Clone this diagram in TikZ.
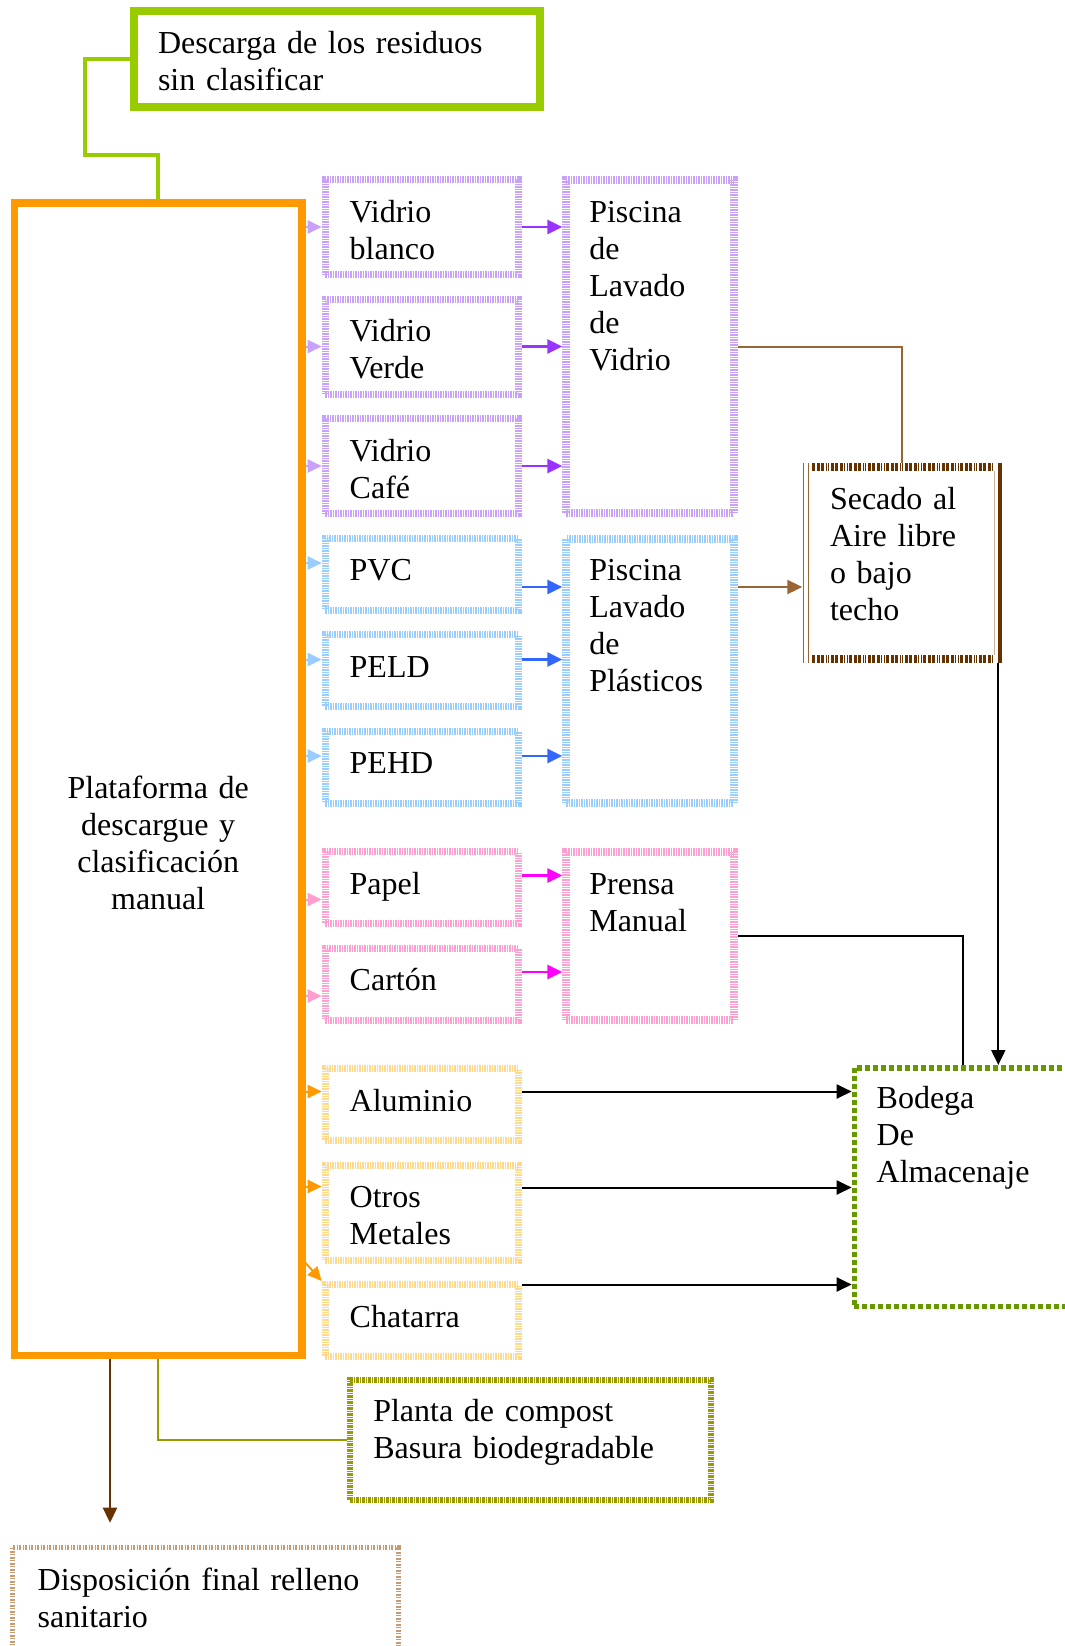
\documentclass[tikz,border=0pt]{standalone}
\usepackage{fontspec}
\setmainfont{Liberation Serif}
\usetikzlibrary{positioning, calc, arrows.meta}

\definecolor{glassl}{HTML}{C9A0FA}
\definecolor{glassd}{HTML}{9933FF}
\definecolor{plastl}{HTML}{99CCFF}
\definecolor{plastd}{HTML}{3366FF}
\definecolor{paperl}{HTML}{FF9FCF}
\definecolor{paperd}{HTML}{FF00FF}
\definecolor{metall}{HTML}{FFD88A}
\definecolor{orangeb}{HTML}{FF9900}
\definecolor{limec}{HTML}{99CC00}
\definecolor{brownl}{HTML}{996633}
\definecolor{brownd}{HTML}{663300}
\definecolor{storeg}{HTML}{669900}
\definecolor{compostc}{HTML}{999900}
\definecolor{landc}{HTML}{C89A70}

\tikzset{
>={Triangle[length=15pt,width=14pt]}, % solid triangle heads
block/.style={anchor=north west, align=left, inner ysep=0pt}, % text hangs from the top edge
item/.style={block, draw, line width=7pt, outer sep=3.5pt, inner xsep=24.5pt,
  text width=144pt, text height=42.5pt, dash pattern=on 1.5pt off 1pt},
two/.style={text depth=52.5pt}, % two lines of text
one/.style={text depth=29.5pt}, % one line of text
stage/.style={block, draw, line width=8pt, outer sep=4pt, inner xsep=23pt,
  text width=122pt, text height=42pt, dash pattern=on 2pt off 1pt on 1pt off 1pt},
feed/.style={->, line width=2pt, >={Triangle[length=14pt,width=13pt]}},
flow/.style={->, line width=2.5pt},
link/.style={line width=2pt},
}

\begin{document}
\begin{tikzpicture}[x=1pt, y=-1pt, node distance=17.5pt,
  font=\fontsize{32}{37}\selectfont]
  \useasboundingbox (0,0) rectangle (1065,1646);
  \fill[white] (0,0) rectangle (1065,1646);

  \node[block, draw=limec, line width=8pt, outer sep=4pt, inner xsep=24pt,
    text width=358pt, text height=42pt, text depth=53.7pt] (descarga) at (130,7.3)
    {Descarga de los residuos\\sin clasificar};
  \node[block, draw=orangeb, line width=7.5pt, outer sep=3.75pt, align=center,
    inner xsep=20pt, text width=247.5pt, text height=595pt, text depth=557.5pt] (plat) at (10.7,199.3)
    {Plataforma de\\descargue y\\clasificación\\manual};

  % separated materials
  \node[item, draw=glassl, two] (vblanco) at (321.7,176) {Vidrio\\blanco};
  \node[item, draw=glassl, two, below=of vblanco] (vverde) {Vidrio\\Verde};
  \node[item, draw=glassl, two, below=of vverde] (vcafe) {Vidrio\\Café};
  \node[item, draw=plastl, one, below=of vcafe] (pvc) {PVC};
  \node[item, draw=plastl, one, below=of pvc] (peld) {PELD};
  \node[item, draw=plastl, one, below=of peld] (pehd) {PEHD};
  \node[item, draw=paperl, one, below=41.5pt of pehd] (papel) {Papel};
  \node[item, draw=paperl, one, below=of papel] (carton) {Cartón};
  \node[item, draw=metall, one, below=41.5pt of carton] (alum) {Aluminio};
  \node[item, draw=metall, two, below=of alum] (otros) {Otros\\Metales};
  \node[item, draw=metall, one, below=of otros] (chat) {Chatarra};

  % treatment
  \node[stage, draw=glassl, text depth=291pt, right=40.6pt of vblanco.north east, anchor=north west] (pv)
    {Piscina\\de\\Lavado\\de\\Vidrio};
  \node[stage, draw=plastl, text depth=222pt, right=40.6pt of pvc.north east, anchor=north west] (pp)
    {Piscina\\Lavado\\de\\Plásticos};
  \node[stage, draw=paperl, text depth=125.5pt, right=40.6pt of papel.north east, anchor=north west] (pm)
    {Prensa\\Manual};
  \node[block, outer sep=0pt, inner xsep=27.7pt, text width=144pt, text height=46pt,
    text depth=153.4pt] (dry) at (802.3,463.3) {Secado al\\Aire libre\\o bajo\\techo};
  \node[block, draw=storeg, line width=5.5pt, outer sep=2.75pt, inner xsep=22.2pt, text width=172pt,
    text height=40.5pt, text depth=198pt, dash pattern=on 5pt off 3pt] (store) at (851.7,1065)
    {Bodega\\De\\Almacenaje};
  \node[block, draw=compostc, line width=6pt, outer sep=3pt, inner xsep=23.6pt, text width=314pt,
    text height=42pt, text depth=78.6pt, dash pattern=on 3pt off 1pt on 1pt off 1pt] (compost) at (346.7,1376.7)
    {Planta de compost\\Basura biodegradable};
  \node[block, draw=landc, line width=5pt, outer sep=2.5pt, inner xsep=25.2pt, text width=336pt,
    text height=42.5pt, text depth=63.5pt, dash pattern=on 2pt off 1.5pt on 1pt off 1.5pt] (relleno) at (10,1545)
    {Disposición final relleno\\sanitario};

  % border of the drying box
  \draw[brownl, line width=1.5pt] ([xshift=1pt]dry.north west) -- ([xshift=1pt]dry.south west)
    ([xshift=6pt]dry.north west) -- ([xshift=6pt]dry.south west);
  \draw[brownd, line width=7.5pt, dash pattern=on 3pt off 1.5pt on 3pt off 1.5pt on 3pt off 1.5pt on 1pt off 1.5pt on 1pt off 1.5pt]
    ([xshift=10pt, yshift=-3.75pt]dry.north west) -- ([xshift=-7pt, yshift=-3.75pt]dry.north east)
    ([xshift=10pt, yshift=3.75pt]dry.south west) -- ([xshift=-7pt, yshift=3.75pt]dry.south east);
  \draw[brownd, line width=4pt] ([xshift=-2pt]dry.north east) -- ([xshift=-2pt]dry.south east);
  \draw[brownl!50, line width=1pt] ([xshift=-7pt, yshift=-8pt]dry.north east) -- ([xshift=-7pt, yshift=8pt]dry.south east);

  \coordinate (bend) at (85,155);
  \coordinate (drop) at (110,1522.7);

  \draw[link, limec, line width=4pt] (descarga.west) -| (bend) -| (plat.north);
  \draw[link, compostc, line width=2.5pt] (plat.south) |- (compost.west);
  \draw[link, brownd, ->, line width=2.5pt] (plat.south -| drop) -- (drop);

  \foreach \n/\col/\dy in {vblanco/glassl/0, vverde/glassl/0, vcafe/glassl/0, pvc/plastl/11,
      peld/plastl/11, pehd/plastl/11, papel/paperl/-12, carton/paperl/-12, alum/orangeb/13, otros/orangeb/26}
    \draw[feed, \col] ($(plat.east |- \n.west)+(0,\dy pt)$) -- ($(\n.west)+(0,\dy pt)$);
  \draw[feed, orangeb] ($(plat.east |- chat.north)+(0,18pt)$) -- (chat.north west);

  \foreach \n/\dest/\col/\dy in {vblanco/pv/glassd/0, vverde/pv/glassd/0, vcafe/pv/glassd/0, pvc/pp/plastd/-13,
      peld/pp/plastd/11, pehd/pp/plastd/11, papel/pm/paperd/12, carton/pm/paperd/12}
    \draw[flow, \col] ($(\n.east)+(0,\dy pt)$) -- ($(\n.east -| \dest.west)+(0,\dy pt)$);

  \foreach \n/\dy in {alum/13, otros/25, chat/36}
    \draw[flow, black, line width=2pt] ($(\n.east)+(0,\dy pt)$) -- ($(\n.east -| store.west)+(0,\dy pt)$);

  \draw[link, brownl] (pv.east) -| (dry.north);
  \draw[link, brownl, ->] ($(pp.east |- dry.west)+(0,-24pt)$) -- ($(dry.west)+(0,-24pt)$);
  \draw[link, black] (pm.east) -| (store.north);
  \draw[flow, black, line width=2pt] ($(dry.south east)+(-3.4pt,0)$) -- ($(dry.south east |- store.north)+(-3.4pt,0)$);

\end{tikzpicture}
\end{document}
